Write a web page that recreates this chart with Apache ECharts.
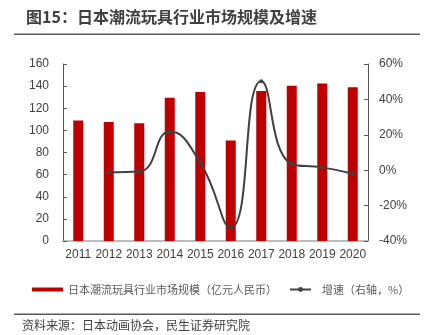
<!DOCTYPE html>
<html>
<head>
<meta charset="utf-8">
<script src="https://cdn.jsdelivr.net/npm/echarts@6/dist/echarts.min.js"></script>
<style>
  html, body { margin: 0; padding: 0; background: #fff; }
  #chart { width: 426px; height: 335px; }
</style>
</head>
<body>
<div id="chart"></div>
<script>
// 日本潮流玩具行业市场规模（亿元人民币）与增速
const years = ['2011', '2012', '2013', '2014', '2015', '2016', '2017', '2018', '2019', '2020'];
const marketSize = [109, 107.5, 106.5, 129.4, 134.8, 90.8, 135.7, 140.3, 142.4, 139];
const growthPct = [null, -1.2, -0.8, 21.8, 4.2, -32.5, 50.2, 3.5, 1.6, -2.0];
const leftTicks = { min: 0, max: 160, interval: 20 };
const rightTicks = { min: -40, max: 60, interval: 20 };

const FONT = '"Liberation Sans", "Noto Sans CJK SC", sans-serif';
const CJK = '"Noto Sans CJK SC", sans-serif';

const chart = echarts.init(document.getElementById('chart'), null, { renderer: 'canvas' });

chart.setOption({
  animation: false,
  backgroundColor: '#ffffff',
  title: {
    text: '图15：日本潮流玩具行业市场规模及增速',
    left: 21,
    top: 4,
    textStyle: { fontFamily: CJK, fontSize: 16, fontWeight: 'bold', color: '#404040' }
  },
  graphic: [
    { type: 'rect', shape: { x: 14, y: 33.5, width: 406, height: 1.5 }, style: { fill: '#595959' } },
    { type: 'rect', shape: { x: 14, y: 313.5, width: 406, height: 1.5 }, style: { fill: '#595959' } },
    {
      type: 'text', left: 22, top: 319,
      style: { text: '资料来源：日本动画协会，民生证券研究院', font: '12px ' + CJK, fill: '#404040' }
    }
  ],
  grid: { left: 63, right: 58, top: 64, bottom: 94, containLabel: false },
  legend: [
    {
      data: [{ name: '日本潮流玩具行业市场规模（亿元人民币）', icon: 'rect' }],
      left: 27, top: 279,
      itemWidth: 31, itemHeight: 4,
      textStyle: { fontFamily: CJK, fontSize: 11, color: '#595959' }
    },
    {
      data: [{ name: '增速（右轴，%）' }],
      left: 284, top: 279,
      itemWidth: 21, itemHeight: 6,
      textStyle: { fontFamily: CJK, fontSize: 11, color: '#595959', padding: [0, 0, 0, 6] }
    }
  ],
  xAxis: {
    type: 'category',
    data: years,
    axisLine: { lineStyle: { color: '#a6a6a6', width: 1.5 } },
    axisTick: { inside: true, length: 4, alignWithLabel: false, lineStyle: { color: '#a6a6a6' } },
    axisLabel: { fontFamily: FONT, fontSize: 12, color: '#404040', margin: 8, interval: 0 }
  },
  yAxis: [
    {
      type: 'value',
      min: leftTicks.min, max: leftTicks.max, interval: leftTicks.interval,
      axisLine: { show: true, lineStyle: { color: '#595959', width: 1 } },
      axisTick: { show: true, inside: true, length: 4, lineStyle: { color: '#595959' } },
      splitLine: { show: false },
      axisLabel: { fontFamily: FONT, fontSize: 12, color: '#404040', margin: 14 }
    },
    {
      type: 'value',
      min: rightTicks.min, max: rightTicks.max, interval: rightTicks.interval,
      axisLine: { show: true, lineStyle: { color: '#595959', width: 1 } },
      axisTick: { show: true, inside: true, length: 4, lineStyle: { color: '#595959' } },
      splitLine: { show: false },
      axisLabel: { fontFamily: FONT, fontSize: 12, color: '#404040', margin: 11, formatter: '{value}%' }
    }
  ],
  series: [
    {
      name: '日本潮流玩具行业市场规模（亿元人民币）',
      type: 'bar',
      data: marketSize,
      barWidth: 10,
      itemStyle: { color: '#c00000' }
    },
    {
      name: '增速（右轴，%）',
      type: 'line',
      yAxisIndex: 1,
      data: growthPct,
      smooth: 0.5,
      symbol: 'circle',
      symbolSize: 4,
      showSymbol: true,
      lineStyle: { color: '#404040', width: 2 },
      itemStyle: { color: '#404040' }
    }
  ]
});
</script>
</body>
</html>
